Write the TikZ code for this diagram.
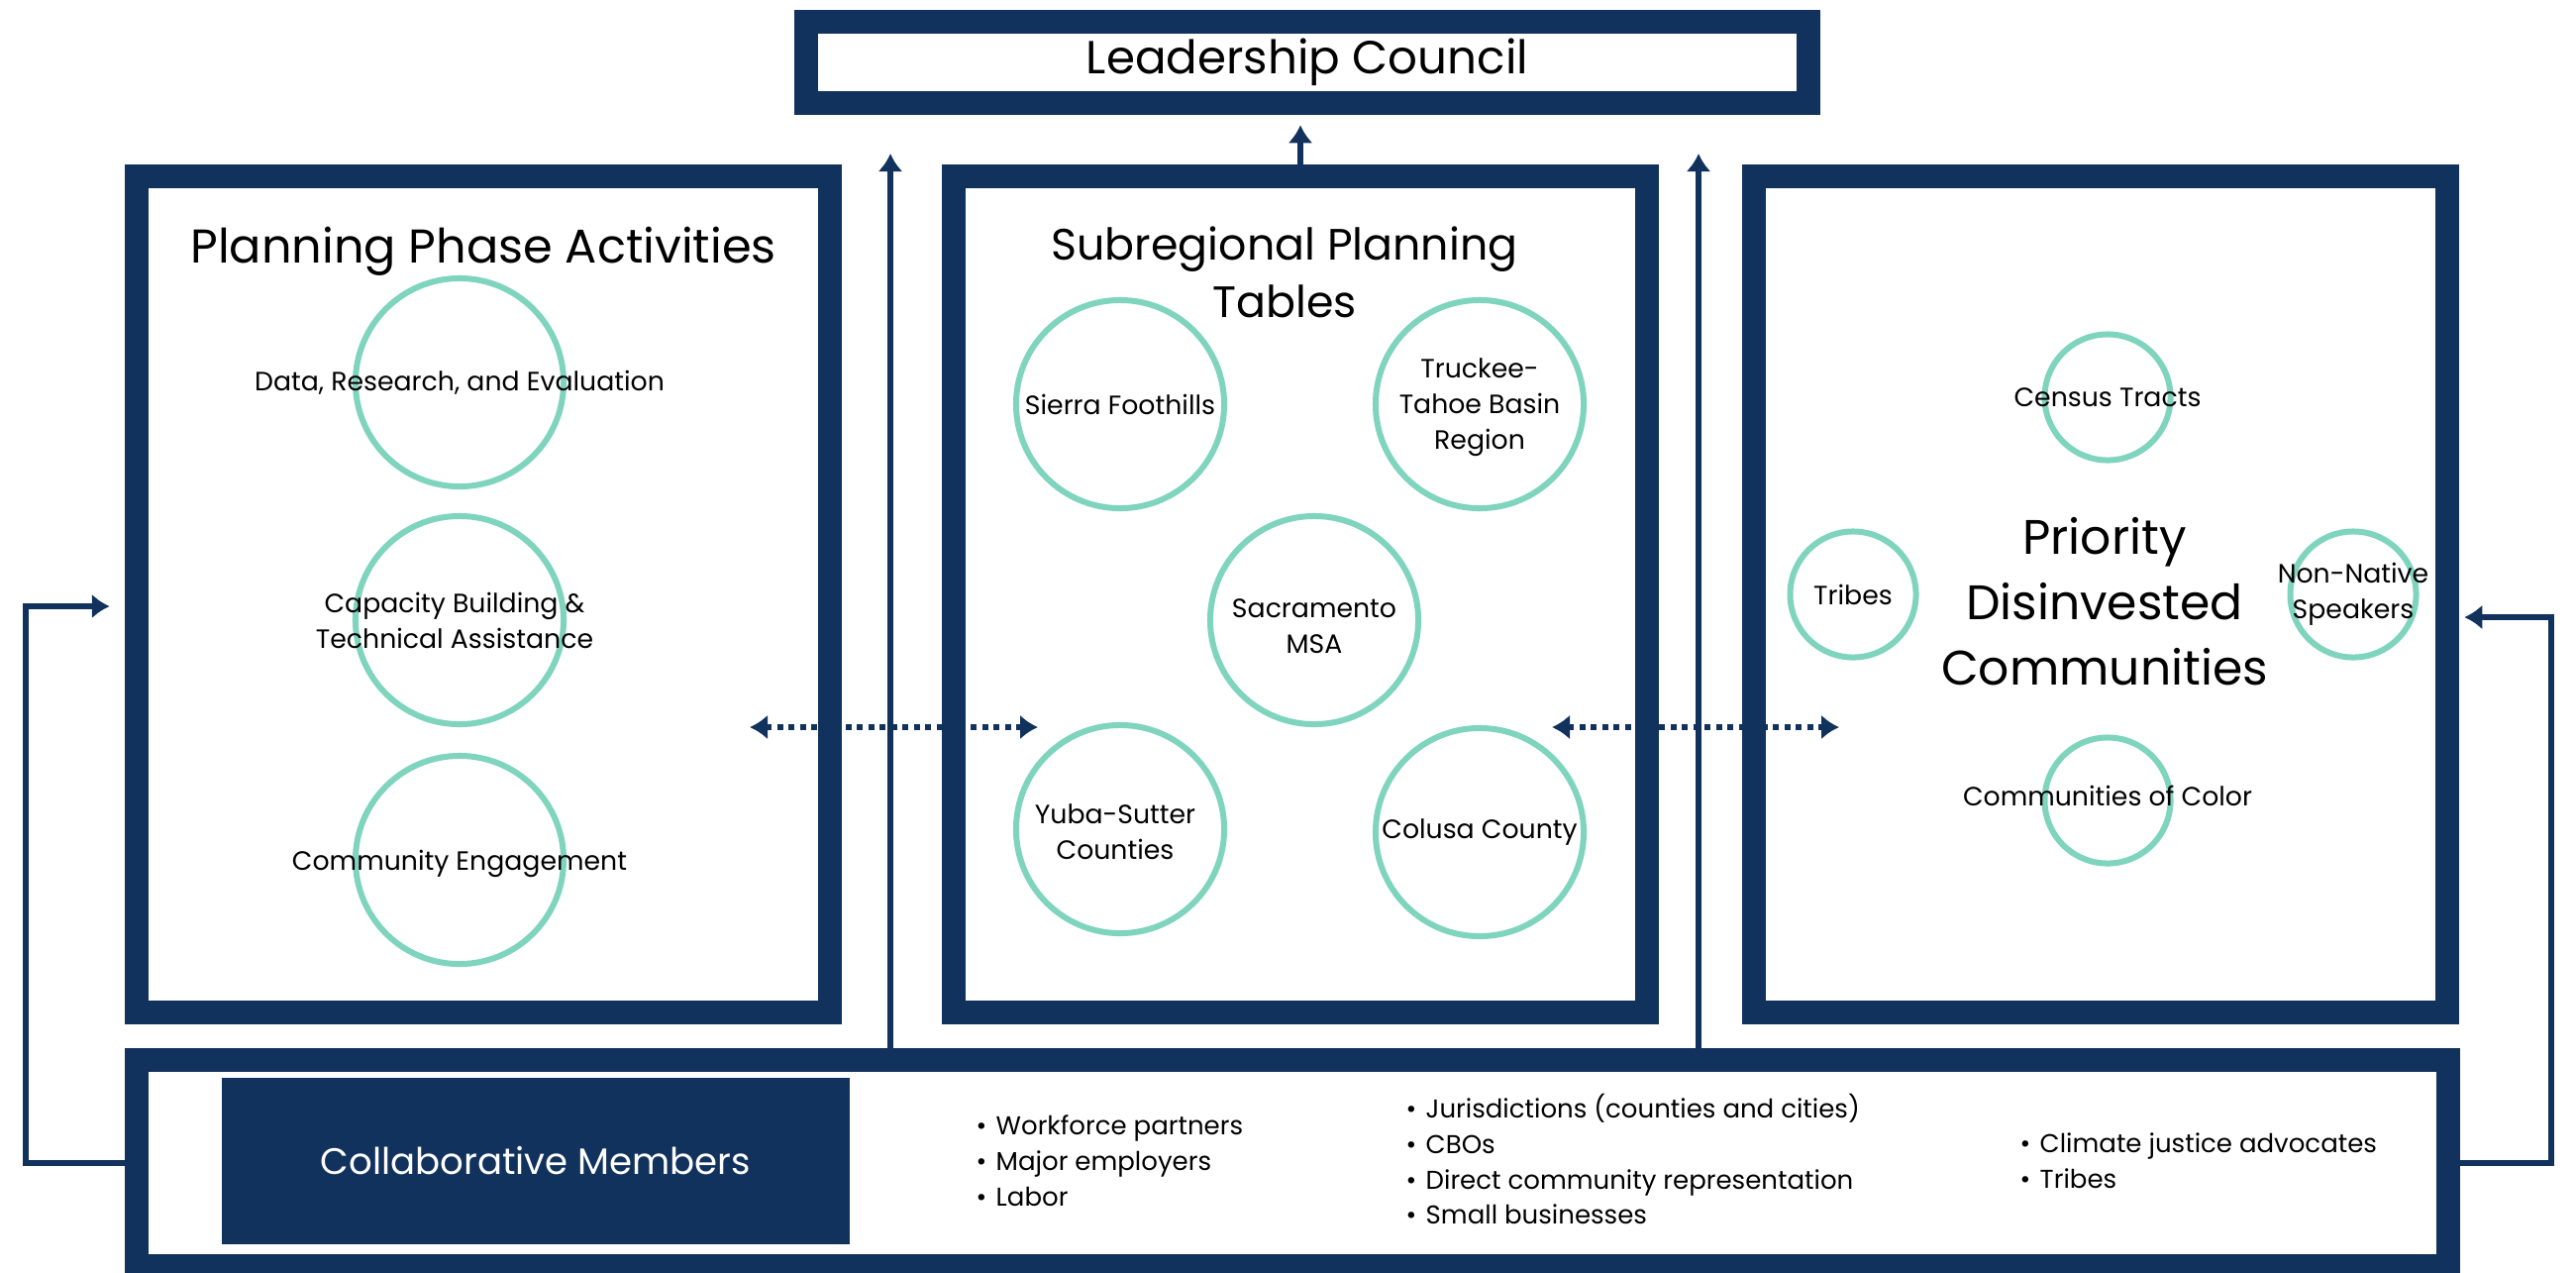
\documentclass[tikz,border=0pt]{standalone}
\usepackage{fontspec}
\setmainfont{Poppins}
\usepackage{tikz}
\usetikzlibrary{arrows.meta}
\usetikzlibrary{positioning}
\tikzset{>={Latex[length=0.18cm,width=0.25cm]}}
\usepackage{xcolor}
\definecolor{navy}{HTML}{12325E}
\definecolor{mint}{HTML}{7FD4BE}
\tikzstyle{panel}=[draw=navy,line width=0.24cm,fill=white,inner sep=0pt,minimum height=8.43cm,minimum width=7.0cm]
\tikzstyle{head}=[font=\fontsize{12.6}{16.5}\selectfont,align=center]
\tikzstyle{ring}=[circle,draw=mint,line width=0.06cm,inner sep=0pt,minimum size=2.1cm]
\tikzstyle{small ring}=[ring,minimum size=1.27cm]
\tikzstyle{ring text}=[font=\fontsize{7.6}{10.2}\selectfont,align=center]
\tikzstyle{list}=[font=\fontsize{7.4}{10.2}\selectfont,align=left,anchor=west,inner sep=0pt]
\tikzstyle{flow}=[navy,line width=0.055cm,->]
\tikzstyle{link}=[navy,line width=0.06cm,dash pattern=on 0.06cm off 0.055cm,<->]
\newcommand{\itm}{\makebox[0.2cm][l]{\textbullet}}

\begin{document}
\begin{tikzpicture}[x=0.01cm,y=-0.01cm]
  \useasboundingbox (0,0) rectangle (2601,1284);
  % top box
  \node[panel,minimum width=10.11cm,minimum height=0.81cm,font=\fontsize{13.3}{15}\selectfont] (lead) at (1320,63) {Leadership Council};
  % three panels and members strip
  \node[panel] (plan) at (488,600) {};
  \node[panel] (subr) at (1313,600) {};
  \node[panel] (prio) at (2121,600) {};
  \node[panel,minimum width=23.33cm,minimum height=2.08cm] (memb) at (1305,1174) {};
  \node[fill=navy,minimum width=6.34cm,minimum height=1.67cm,text=white,font=\fontsize{10.55}{13}\selectfont] (collab) at (541,1172) {Collaborative Members};

  % planning phase
  \node[head,font=\fontsize{13.6}{17}\selectfont] (plantitle) at (488,254) {Planning Phase Activities};
  \node[ring,label={[ring text]center:Data, Research, and Evaluation}] (data) at (464,386) {};
  \node[ring,label={[ring text,xshift=-0.05cm]center:Capacity Building \&\\Technical Assistance}] (capa) at (464,626) {};
  \node[ring,label={[ring text,yshift=-0.04cm]center:Community Engagement}] (comm) at (464,868) {};

  % subregions
  \node[head] (subrtitle) at (1297,275) {Subregional Planning\\Tables};
  \node[ring,label={[ring text]center:Sierra Foothills}] (sier) at (1131,408) {};
  \node[ring,label={[ring text,yshift=-0.03cm]center:Truckee-\\Tahoe Basin\\Region}] (truc) at (1494,408) {};
  \node[ring,label={[ring text,yshift=-0.06cm]center:Sacramento\\MSA}] (sacr) at (1327,626) {};
  \node[ring,label={[ring text,yshift=-0.03cm,xshift=-0.05cm]center:Yuba-Sutter\\Counties}] (yuba) at (1131,837) {};
  \node[ring,label={[ring text]center:Colusa County}] (colu) at (1494,840) {};

  % priority communities
  \node[head,font=\fontsize{13.9}{18.8}\selectfont] (priotitle) at (2125,607) {Priority\\Disinvested\\Communities};
  \node[small ring,label={[ring text]center:Census Tracts}] (cens) at (2128,401) {};
  \node[small ring,label={[ring text]center:Tribes}] (trib) at (1871,600) {};
  \node[small ring,label={[ring text]center:Non-Native\\Speakers}] (nonn) at (2376,600) {};
  \node[small ring,label={[ring text,yshift=0.05cm]center:Communities of Color}] (colo) at (2128,808) {};

  % member lists
  \node[list] (lista) at (985,1172) {\itm Workforce partners\\\itm Major employers\\\itm Labor};
  \node[list] (listb) at (1419,1170) {\itm Jurisdictions (counties and cities)\\\itm CBOs\\\itm Direct community representation\\\itm Small businesses};
  \node[list] (listc) at (2039,1172) {\itm Climate justice advocates\\\itm Tribes};

  % arrows up
  \coordinate (upL) at (899,155);
  \coordinate (upR) at (1715,155);
  \draw[flow] (memb.north -| upL) -- (upL);
  \draw[flow] (memb.north -| upR) -- (upR);
  \draw[flow] (subr.north) -- ++(0,-40);

  % feedback loops
  \draw[flow] (memb.west) -- ++(-100,0) |- ([xshift=-0.15cm,yshift=-0.12cm]plan.west);
  \draw[flow] (memb.east) -- ++(92,0) |- ([xshift=0.05cm,yshift=-0.23cm]prio.east);

  % dotted links
  \coordinate (dA) at (757,734);
  \coordinate (dB) at (1048,734);
  \coordinate (dC) at (1567,734);
  \coordinate (dD) at (1857,734);
  \draw[link] (dA) -- (dB);
  \draw[link] (dC) -- (dD);
\end{tikzpicture}
\end{document}
